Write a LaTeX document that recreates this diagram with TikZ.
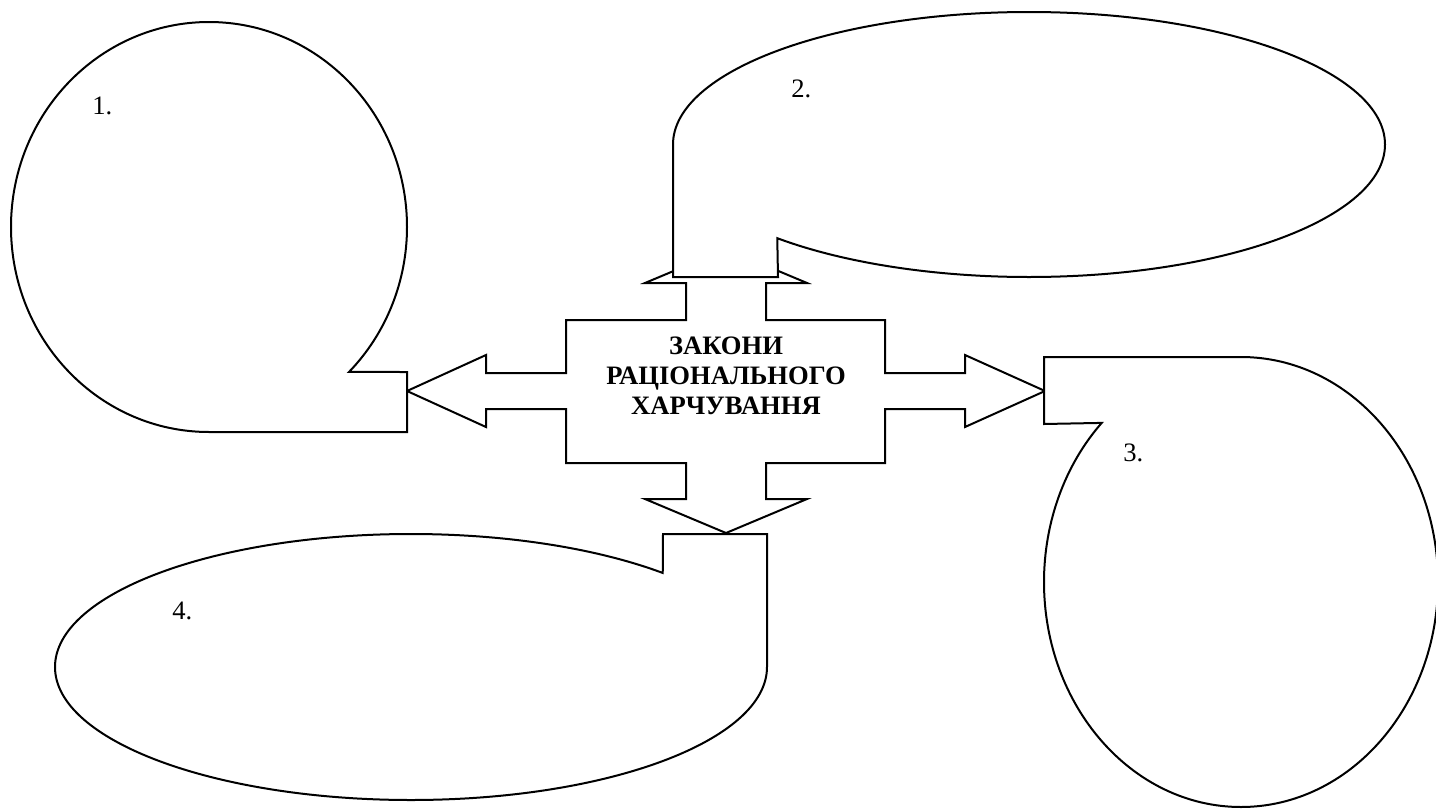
\documentclass[tikz,border=0pt]{standalone}
\usepackage{fontspec}
\setmainfont{Liberation Serif}
\begin{document}
\begin{tikzpicture}[x=0.5pt,y=-0.5pt,
  outline/.style={draw=black, line width=1pt, line join=miter, fill=white},
  lbl/.style={anchor=base west, inner sep=0pt, font=\fontsize{13.3}{16}\selectfont},
  ttl/.style={anchor=base, inner sep=0pt, font=\fontsize{13.3}{15}\selectfont\bfseries}]
\useasboundingbox (0,0) rectangle (1436,809);
% central four-way arrow
\draw[outline] (726,249) -- (807,283) -- (766,283) -- (766,320) -- (885,320) -- (885,373)
  -- (965,373) -- (965,355) -- (1045,391) -- (965,427) -- (965,409) -- (885,409)
  -- (885,463) -- (766,463) -- (766,499) -- (807,499) -- (726,533) -- (645,499)
  -- (686,499) -- (686,463) -- (566,463) -- (566,409) -- (486,409) -- (486,427)
  -- (407,391) -- (486,355) -- (486,373) -- (566,373) -- (566,320) -- (686,320)
  -- (686,283) -- (645,283) -- cycle;
\node[ttl] (t1) at (726,354) {ЗАКОНИ};
\node[ttl] (t2) at (726,384) {РАЦІОНАЛЬНОГО};
\node[ttl] (t3) at (726,414) {ХАРЧУВАННЯ};
% callout 1
\draw[outline] (209,432) arc[start angle=90, end angle=405, x radius=198, y radius=205]
  -- (407,372) -- (407,432) -- cycle;
% callout 2
\draw[outline] (673,144.5) arc[start angle=180, end angle=495, x radius=356, y radius=132.5]
  -- (778,277) -- (673,277) -- cycle;
% callout 3
\draw[outline] (1241,357) arc[start angle=270, end angle=585, x radius=197, y radius=225]
  -- (1044,424) -- (1044,357) -- cycle;
% callout 4
\draw[outline] (767,667) arc[start angle=0, end angle=315, x radius=356, y radius=133]
  -- (663,534) -- (767,534) -- cycle;
% labels
\node[lbl] (l1) at (92,114) {1.};
\node[lbl] (l2) at (791,97) {2.};
\node[lbl] (l3) at (1123,461) {3.};
\node[lbl] (l4) at (172,619) {4.};
\end{tikzpicture}
\end{document}
